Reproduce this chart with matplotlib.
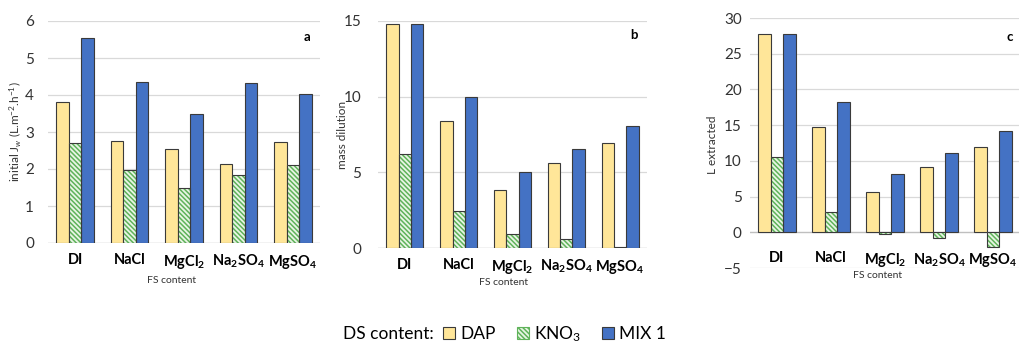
import numpy as np
import matplotlib.pyplot as plt
from matplotlib.patches import Patch

plt.rcParams['font.family'] = ['Lato', 'DejaVu Sans']
plt.rcParams['mathtext.fontset'] = 'custom'
plt.rcParams['mathtext.rm'] = 'Lato'
plt.rcParams['mathtext.it'] = 'Lato:italic'
plt.rcParams['mathtext.bf'] = 'Lato:bold'
plt.rcParams['hatch.linewidth'] = 1.1

# dados
cats = ['DI', 'NaCl', r'MgCl$_\mathbf{2}$', r'Na$_\mathbf{2}$SO$_\mathbf{4}$', r'MgSO$_\mathbf{4}$']

flux_dap = [3.8, 2.77, 2.53, 2.13, 2.73]
flux_kno3 = [2.7, 1.97, 1.5, 1.83, 2.1]
flux_mix = [5.53, 4.36, 3.5, 4.32, 4.03]

dil_dap = [14.8, 8.4, 3.85, 5.6, 6.95]
dil_kno3 = [6.2, 2.45, 0.95, 0.6, 0.05]
dil_mix = [14.8, 10.0, 5.05, 6.55, 8.05]

ext_dap = [27.7, 14.7, 5.6, 9.1, 12.0]
ext_kno3 = [10.5, 2.9, -0.2, -0.8, -2.0]
ext_mix = [27.7, 18.2, 8.1, 11.1, 14.2]

c_dap = '#FFE699'
c_kno3 = '#5FB35A'
c_kno3_bg = '#E8F5E4'
c_mix = '#4472C4'
edge = '#3A3A3A'
grid = '#D9D9D9'
hatch = '\\\\\\\\\\\\\\'

fig = plt.figure(figsize=(10.2, 3.47), dpi=100)
W, H = 1020.0, 347.0

def axes_px(left, top, right, bottom):
    return fig.add_axes([left / W, 1 - bottom / H, (right - left) / W, (bottom - top) / H])

def draw_panel(ax, dap, kno3, mix, ylim, yticks, letter, xl_pos, lab_pad, tick_pad):
    x = np.arange(len(cats))
    w = 0.23
    ax.bar(x - w, dap, w, color=c_dap, edgecolor=edge, linewidth=0.8, zorder=3)
    ax.bar(x, kno3, w, color=c_kno3_bg, edgecolor=c_kno3, hatch=hatch, linewidth=0, zorder=3)
    ax.bar(x, kno3, w, fill=False, edgecolor=edge, linewidth=0.8, zorder=4)
    ax.bar(x + w, mix, w, color=c_mix, edgecolor=edge, linewidth=0.8, zorder=3)
    ax.set_xlim(-0.5, len(cats) - 0.5)
    ax.set_ylim(*ylim)
    ax.set_yticks(yticks)
    ax.yaxis.grid(True, color=grid, linewidth=0.9, zorder=0)
    ax.axhline(0, color='#BFBFBF', linewidth=0.9, zorder=2)
    for s in ax.spines.values():
        s.set_visible(False)
    ax.tick_params(axis='both', length=0, labelsize=11, colors='#333333')
    ax.tick_params(axis='y', pad=tick_pad)
    ax.tick_params(axis='x', pad=lab_pad)
    ax.set_xticks(x)
    ax.set_xticklabels(cats, fontweight='bold', fontsize=10.5, color='black')
    ax.set_xlabel('FS content', fontsize=7.5, color='#333333')
    ax.xaxis.set_label_coords(xl_pos[0], xl_pos[1])
    ax.xaxis.label.set_va('center')
    ax.text(letter[0], letter[1], letter[2], transform=ax.transAxes,
            fontweight='bold', fontsize=9.5, ha='center', va='center')
    return ax

ax1 = axes_px(48, 21, 320, 243)
draw_panel(ax1, flux_dap, flux_kno3, flux_mix, (0, 6), range(0, 7),
           (0.954, 0.926, 'a'), (0.456, -0.171), 7, 10)
fig.text(15 / W, 1 - 132 / H, r'initial J$_w$ (L.m$^{-2}$.h$^{-1}$)', rotation=90,
         ha='center', va='center', fontsize=8.5, color='#333333')

ax2 = axes_px(378, 21, 647, 248)
draw_panel(ax2, dil_dap, dil_kno3, dil_mix, (0, 15), [0, 5, 10, 15],
           (0.953, 0.938, 'b'), (0.465, -0.154), 7, 12)
fig.text(343 / W, 1 - 135 / H, 'mass dilution', rotation=90,
         ha='center', va='center', fontsize=8.5, color='#333333')

ax3 = axes_px(750, 18, 1020, 268)
draw_panel(ax3, ext_dap, ext_kno3, ext_mix, (-5, 30), range(-5, 31, 5),
           (0.963, 0.924, 'c'), (0.474, -0.032), -12, 6)
fig.text(713 / W, 1 - 145 / H, 'L extracted', rotation=90,
         ha='center', va='center', fontsize=8.5, color='#333333')

handles = [
    Patch(facecolor=c_dap, edgecolor=edge, linewidth=0.8, label='DAP'),
    Patch(facecolor=c_kno3_bg, edgecolor=c_kno3, hatch=hatch, linewidth=0.8, label=r'KNO$_3$'),
    Patch(facecolor=c_mix, edgecolor=edge, linewidth=0.8, label='MIX 1'),
]
fig.legend(handles=handles, loc='center left', bbox_to_anchor=(443 / W, 1 - 334 / H),
           ncol=3, frameon=False, fontsize=12.5, handlelength=0.7, handleheight=0.7,
           handletextpad=0.3, columnspacing=1.2, borderpad=0, borderaxespad=0)
fig.text(343 / W, 1 - 334 / H, 'DS content:', ha='left', va='center', fontsize=12.5)

fig.savefig('out.png', dpi=100)
